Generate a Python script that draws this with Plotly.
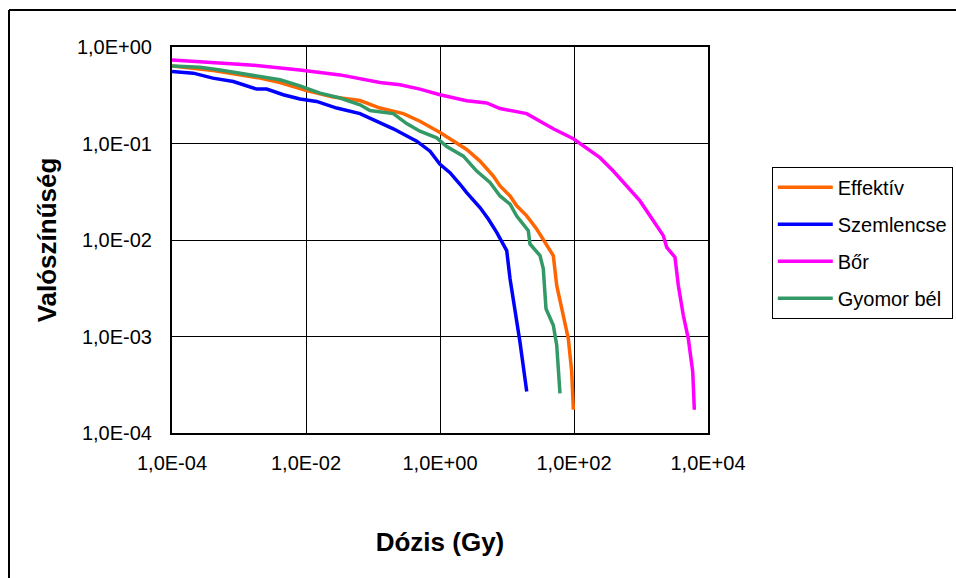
import plotly.graph_objects as go

# ---- data (dose in Gy, probability) ----
effektiv_x = [1e-4, 4.13e-4, 2.06e-3, 4.09e-3, 0.0102, 0.0255, 0.064, 0.127, 0.283, 0.502, 1.0,
              2.5, 3.95, 6.25, 7.87, 11.1, 13.96, 19.7, 27.7, 34.8, 49.1, 55.2, 69.2, 82.2, 92.4, 97.8]
effektiv_y = [0.637, 0.570, 0.476, 0.428, 0.354, 0.303, 0.279, 0.233, 0.204, 0.170, 0.130,
              0.0867, 0.0657, 0.046, 0.0363, 0.0286, 0.0226, 0.0178, 0.0130, 0.0102, 0.00689,
              0.00338, 0.00166, 9.5e-4, 4.32e-4, 1.74e-4]

szemlencse_x = [1e-4, 2.08e-4, 4.07e-4, 8.22e-4, 1.84e-3, 2.59e-3, 4.58e-3, 8.13e-3, 0.0144, 0.0287,
                0.064, 0.1135, 0.201, 0.449, 0.71, 1.0, 1.41, 1.99, 2.5, 3.95, 5.26, 7.02, 9.9,
                11.1, 13.2, 15.6, 19.7]
szemlencse_y = [0.556, 0.536, 0.476, 0.439, 0.366, 0.366, 0.320, 0.289, 0.273, 0.233,
                0.204, 0.170, 0.142, 0.1057, 0.0833, 0.0608, 0.0499, 0.0378, 0.031, 0.0217,
                0.0165, 0.012, 0.00776, 0.00396, 0.00194, 8.8e-4, 2.69e-4]

bor_x = [1e-4, 2.62e-4, 1.46e-3, 8.1e-3, 0.0322, 0.127, 0.253, 0.502, 1.0, 2.5, 4.98, 7.87,
         19.7, 31.1, 49.1, 97.8, 155, 244, 386, 612, 966, 1528, 2153, 2421, 3215, 3606,
         4278, 5081, 5916, 6252]
bor_y = [0.734, 0.70, 0.652, 0.579, 0.514, 0.428, 0.406, 0.366, 0.32, 0.277, 0.263, 0.23,
         0.204, 0.17, 0.142, 0.112, 0.0903, 0.0713, 0.0518, 0.0363, 0.0254, 0.0158, 0.0111,
         0.0084, 0.00663, 0.00338, 0.00166, 9.5e-4, 4.32e-4, 1.74e-4]

gyomor_x = [1e-4, 2.62e-4, 5.2e-4, 1.16e-3, 2.06e-3, 4.09e-3, 8.13e-3, 0.0162, 0.0322, 0.064,
            0.0902, 0.201, 0.318, 0.502, 0.893, 1.26, 2.23, 3.53, 5.57, 7.87, 11.1, 13.96,
            20.8, 22.0, 31.1, 34.8, 38.2, 49.1, 55.2, 58.4, 61.8]
gyomor_y = [0.637, 0.618, 0.579, 0.527, 0.502, 0.457, 0.396, 0.333, 0.296, 0.252,
            0.220, 0.204, 0.161, 0.134, 0.1145, 0.0931, 0.074, 0.0518, 0.0394, 0.0286,
            0.0235, 0.0177, 0.0125, 0.0091, 0.00689, 0.00502, 0.00194, 0.00131, 8.13e-4,
            5.06e-4, 2.58e-4]

series_names = ["Effektív", "Szemlencse", "Bőr", "Gyomor bél"]
series_colors = ["#FF6600", "#0000FF", "#FF00FF", "#339966"]

x_tickvals = [1e-4, 1e-2, 1e0, 1e2, 1e4]
x_ticktext = ["1,0E-04", "1,0E-02", "1,0E+00", "1,0E+02", "1,0E+04"]
y_tickvals = [1e-4, 1e-3, 1e-2, 1e-1, 1e0]
y_ticktext = ["1,0E-04", "1,0E-03", "1,0E-02", "1,0E-01", "1,0E+00"]

x_title = "Dózis (Gy)"
y_title = "Valószínűség"

FONT = "Liberation Sans, Arial, sans-serif"

fig = go.Figure()
all_x = [effektiv_x, szemlencse_x, bor_x, gyomor_x]
all_y = [effektiv_y, szemlencse_y, bor_y, gyomor_y]
for i, (xs, ys) in enumerate(zip(all_x, all_y)):
    fig.add_trace(go.Scatter(
        x=xs, y=ys, mode="lines", name=series_names[i],
        line=dict(color=series_colors[i], width=3.5),
        legendgroup=str(i),
    ))

# chart-area frame: only its left and top edges are visible in the reference
frame_left, frame_top = -0.3041, 1.0959
fig.update_layout(
    width=956, height=578,
    margin=dict(l=172, r=248, t=47, b=145, autoexpand=False),
    paper_bgcolor="white", plot_bgcolor="white",
    font=dict(family=FONT, size=20, color="black"),
    showlegend=True,
    legend=dict(
        x=1.119, y=0.69, xanchor="left", yanchor="top",
        bordercolor="black", borderwidth=1, bgcolor="white",
        font=dict(family=FONT, size=20, color="black"),
        tracegroupgap=8, itemwidth=55,
    ),
    shapes=[
        dict(type="line", xref="paper", yref="paper",
             x0=frame_left, y0=-0.5, x1=frame_left, y1=frame_top,
             line=dict(color="black", width=2), layer="below"),
        dict(type="line", xref="paper", yref="paper",
             x0=frame_left, y0=frame_top, x1=1.5, y1=frame_top,
             line=dict(color="black", width=2), layer="below"),
    ],
)

fig.update_xaxes(
    type="log", range=[-4, 4],
    tickvals=x_tickvals, ticktext=x_ticktext,
    showgrid=True, gridcolor="black", gridwidth=1,
    showline=True, linecolor="black", linewidth=2, mirror=True,
    ticks="", ticklabelstandoff=11, zeroline=False,
    tickfont=dict(family=FONT, size=20, color="black"),
    title=dict(text="<b>" + x_title + "</b>", font=dict(family=FONT, size=26, color="black"), standoff=60),
    automargin=False,
)
fig.update_yaxes(
    type="log", range=[-4, 0],
    tickvals=y_tickvals, ticktext=y_ticktext,
    showgrid=True, gridcolor="black", gridwidth=1,
    showline=True, linecolor="black", linewidth=2, mirror=True,
    ticks="", ticklabelstandoff=14, zeroline=False,
    tickfont=dict(family=FONT, size=20, color="black"),
    title=dict(text="<b>" + y_title + "</b>", font=dict(family=FONT, size=26, color="black"), standoff=13),
    automargin=False,
)

fig.write_html(
    "out.html",
    config={"displayModeBar": False},
    post_script="document.body.style.margin='0';document.body.style.overflow='hidden';",
)
